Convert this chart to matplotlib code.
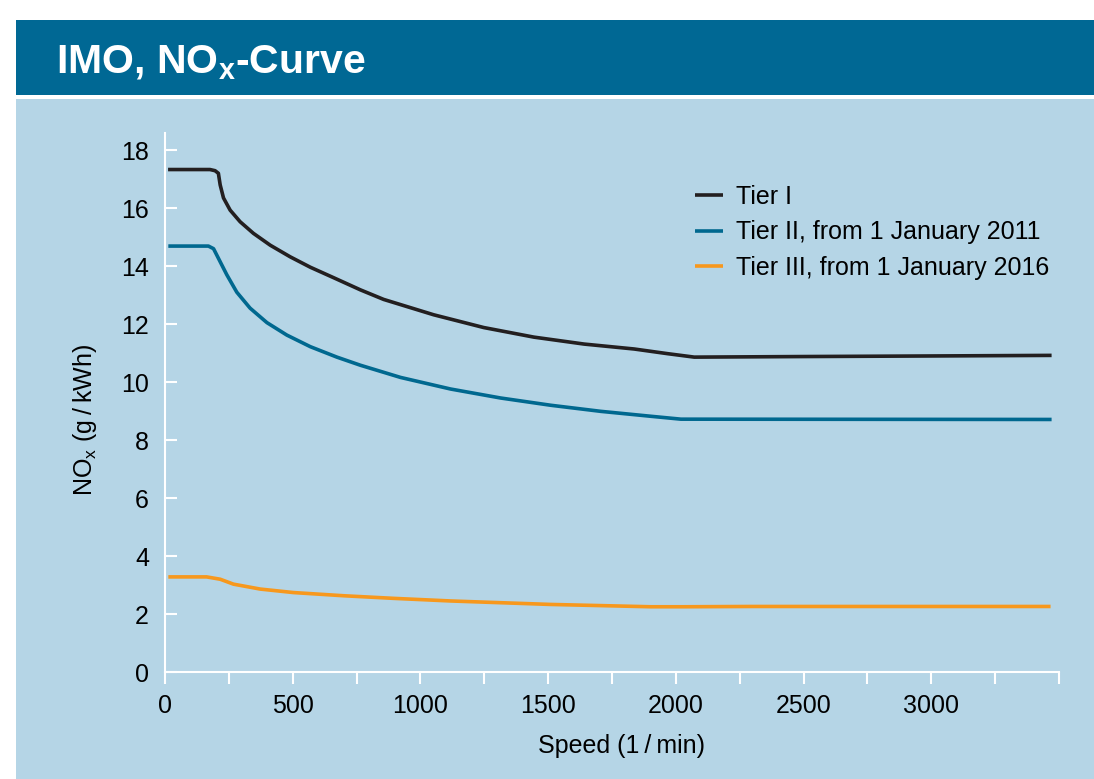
import matplotlib
matplotlib.use("Agg")
import matplotlib.pyplot as plt
from matplotlib.patches import Rectangle

plt.rcParams['font.family'] = ['Liberation Sans', 'DejaVu Sans']
plt.rcParams['mathtext.fontset'] = 'custom'
plt.rcParams['mathtext.rm'] = 'Liberation Sans'

# values
tier1_speed = [12, 176, 196, 209, 216, 229, 255, 294, 346, 412, 490, 569, 660, 765,
               856, 1052, 1248, 1444, 1641, 1837, 1967, 2072, 2500, 3000, 3471]
tier1_nox = [17.33, 17.33, 17.29, 17.20, 16.80, 16.35, 15.93, 15.53, 15.13, 14.72,
             14.32, 13.96, 13.60, 13.18, 12.85, 12.32, 11.88, 11.55, 11.31, 11.14,
             10.98, 10.86, 10.88, 10.90, 10.92]

tier2_speed = [13, 170, 190, 216, 242, 281, 333, 399, 477, 569, 673, 765, 922, 1118,
               1314, 1510, 1706, 1902, 2020, 3471]
tier2_nox = [14.69, 14.69, 14.60, 14.15, 13.70, 13.10, 12.55, 12.05, 11.62, 11.22,
             10.86, 10.58, 10.16, 9.76, 9.45, 9.20, 8.99, 8.82, 8.72, 8.71]

tier3_speed = [13, 163, 216, 268, 373, 503, 699, 895, 1118, 1510, 1902, 2031, 2294, 3467]
tier3_nox = [3.28, 3.28, 3.20, 3.03, 2.86, 2.74, 2.63, 2.54, 2.45, 2.33, 2.25, 2.25,
             2.26, 2.26]

labels = ["Tier I", "Tier II, from 1 January 2011", "Tier III, from 1 January 2016"]
colors = ["#231f20", "#00688f", "#f7981d"]

xticks = list(range(0, 3501, 250))
xticklabels = [str(t) if t % 500 == 0 and t <= 3000 else "" for t in xticks]
yticks = list(range(0, 19, 2))

W, H = 1094, 779
fs = 18
fig = plt.figure(figsize=(W / 100, H / 100), dpi=100, facecolor="white")

# header bar and panel background
fig.patches.append(Rectangle((16 / W, 1 - 95 / H), 1 - 16 / W, 75 / H,
                             transform=fig.transFigure, facecolor="#006894",
                             edgecolor="none", zorder=-2))
fig.patches.append(Rectangle((16 / W, 0), 1 - 16 / W, 1 - 99 / H,
                             transform=fig.transFigure, facecolor="#b5d5e6",
                             edgecolor="none", zorder=-2))
fig.text(56 / W, 1 - 73 / H, r"IMO, NO$_\mathregular{x}$-Curve", color="white",
         fontsize=29.5, fontweight="bold", ha="left", va="baseline")

ax = fig.add_axes([165 / W, 1 - 672 / H, (1059 - 165) / W, (672 - 133) / H])
ax.set_facecolor("none")
ax.set_zorder(2)

series = [(tier1_speed, tier1_nox), (tier2_speed, tier2_nox), (tier3_speed, tier3_nox)]
for (sx, sy), lab, col in zip(series, labels, colors):
    ax.plot(sx, sy, color=col, lw=2.6, label=lab, solid_capstyle="butt",
            solid_joinstyle="round")

ax.set_xlim(0, 3500)
ax.set_ylim(0, 18.59)
ax.set_xticks(xticks)
ax.set_xticklabels(xticklabels)
ax.set_yticks(yticks)

for s in ["top", "right"]:
    ax.spines[s].set_visible(False)
for s in ["left", "bottom"]:
    ax.spines[s].set_color("white")
    ax.spines[s].set_linewidth(1.5)

ax.tick_params(axis="x", direction="out", length=8.6, width=1.5, color="white",
               labelsize=fs, pad=7)
ax.tick_params(axis="y", direction="in", length=8.6, width=1.5, color="white",
               labelsize=fs, pad=11.5)

fig.text(621 / W, 1 - 753 / H, "Speed (1\u2009/\u2009min)", fontsize=fs,
         ha="center", va="baseline")
fig.text(85 / W, 1 - 420 / H, "NO$_\\mathregular{x}$ (g\u2009/\u2009kWh)",
         fontsize=fs, rotation=90, ha="center", va="center")

ax.legend(loc="upper left", bbox_to_anchor=(695 / W, 1 - 185 / H),
          bbox_transform=fig.transFigure, frameon=False, fontsize=fs,
          handlelength=1.1, handletextpad=0.55, labelspacing=0.46,
          borderpad=0, borderaxespad=0)

fig.savefig("out.png", dpi=100, facecolor="white")
